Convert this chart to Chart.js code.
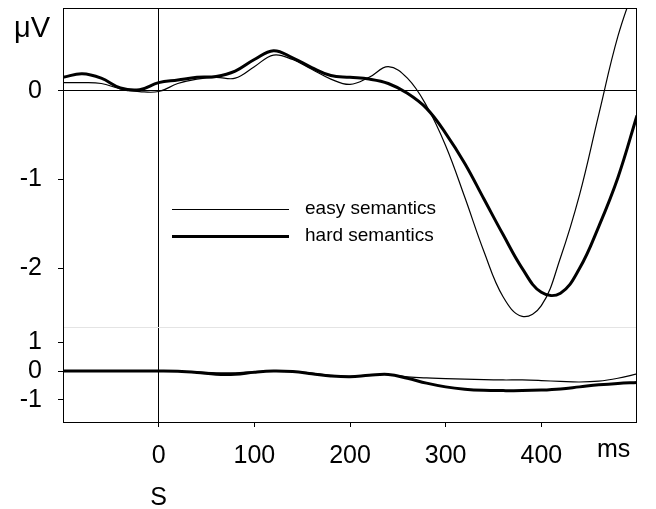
<!DOCTYPE html>
<html>
<head>
<meta charset="utf-8">
<script src="https://cdn.jsdelivr.net/npm/chart.js@4/dist/chart.umd.min.js"></script>
<style>
  html, body { margin: 0; padding: 0; background: #fff; }
  #wrap { width: 656px; height: 509px; }
</style>
</head>
<body>
<div id="wrap"><canvas id="erp"></canvas></div>
<script>
// time points, ms
const times = [-100, -80, -60, -40, -20, 0, 20, 40, 60, 80, 100, 120, 140, 160, 180, 200,
               220, 240, 260, 280, 300, 320, 340, 360, 380, 400, 420, 440, 460, 480, 500];

// upper panel, µV
const easyTop = [0.09, 0.09, 0.08, 0.02, -0.01, -0.01, 0.08, 0.13, 0.15, 0.14, 0.27, 0.40, 0.35, 0.24, 0.13, 0.07,
                 0.15, 0.27, 0.14, -0.17, -0.62, -1.20, -1.81, -2.32, -2.54, -2.42, -1.88, -1.17, -0.27, 0.61, 1.25];
const hardTop = [0.15, 0.19, 0.14, 0.03, 0.01, 0.09, 0.12, 0.15, 0.16, 0.22, 0.35, 0.45, 0.37, 0.26, 0.17, 0.15,
                 0.13, 0.08, -0.03, -0.20, -0.48, -0.82, -1.22, -1.62, -2.00, -2.27, -2.28, -2.00, -1.53, -0.98, -0.28];

// lower panel, µV
const easyBottom = [0, 0, 0, 0, 0, 0, -0.01, -0.03, -0.06, -0.06, -0.02, 0, -0.01, -0.07, -0.15, -0.18,
                    -0.14, -0.12, -0.20, -0.24, -0.26, -0.28, -0.30, -0.31, -0.31, -0.33, -0.36, -0.38, -0.35, -0.25, -0.10];
const hardBottom = [0, 0, 0, 0, 0, 0, -0.01, -0.05, -0.11, -0.11, -0.04, 0, -0.02, -0.09, -0.17, -0.20,
                    -0.15, -0.12, -0.25, -0.42, -0.55, -0.63, -0.67, -0.68, -0.68, -0.66, -0.62, -0.55, -0.48, -0.43, -0.40];

const xTicks = [0, 100, 200, 300, 400];
const yTopTicks = [0, -1, -2];
const yBottomTicks = [1, 0, -1];
const seriesNames = ['easy semantics', 'hard semantics'];

const FONT = "'Liberation Sans', Arial, sans-serif";
Chart.defaults.font.family = FONT;
Chart.defaults.color = '#000';

const pts = (vals) => times.map((t, i) => ({ x: t, y: vals[i] }));

function lineSet(label, vals, width, axis) {
    return {
        label: label,
        data: pts(vals),
        yAxisID: axis,
        borderColor: '#000',
        borderWidth: width,
        pointRadius: 0,
        fill: false,
        tension: 0.4
    };
}

// no extra room for half labels, the frame is fixed
function fitY(s) {
    s.width = 63;
    s.paddingTop = 0;
    s.paddingBottom = 0;
}

// frame, panel separator, axis words and the legend
const decor = {
    id: 'decor',
    afterDraw(chart) {
        const ctx = chart.ctx;
        const a = chart.chartArea;
        const yb = chart.scales.yBot;
        const x = chart.scales.x;
        ctx.save();
        ctx.strokeStyle = '#e4e4e4';
        ctx.lineWidth = 1;
        ctx.beginPath();
        ctx.moveTo(a.left, Math.round(yb.top) + 0.5);
        ctx.lineTo(a.right, Math.round(yb.top) + 0.5);
        ctx.stroke();

        ctx.strokeStyle = '#000';
        ctx.strokeRect(Math.round(a.left) + 0.5, Math.round(a.top) + 0.5,
                       Math.round(a.right - a.left) - 1, Math.round(a.bottom - a.top));

        ctx.fillStyle = '#000';
        ctx.textBaseline = 'alphabetic';
        ctx.textAlign = 'left';
        ctx.font = '29px ' + FONT;
        ctx.fillText('μV', 14, 37);
        ctx.font = '25px ' + FONT;
        ctx.fillText('ms', 597, 457);
        ctx.textAlign = 'center';
        ctx.fillText('S', x.getPixelForValue(0), 505);

        // legend
        const widths = [1, 3];
        ctx.textAlign = 'left';
        ctx.font = '19px ' + FONT;
        seriesNames.forEach((name, i) => {
            const ly = 209 + i * 27;
            ctx.lineWidth = widths[i];
            ctx.beginPath();
            ctx.moveTo(172, ly + 0.5);
            ctx.lineTo(289, ly + 0.5);
            ctx.stroke();
            ctx.textBaseline = 'middle';
            ctx.fillText(name, 305, ly);
        });
        ctx.restore();
    }
};

new Chart(document.getElementById('erp'), {
    type: 'line',
    data: {
        datasets: [
            lineSet(seriesNames[0], easyTop, 1.2, 'yTop'),
            lineSet(seriesNames[1], hardTop, 3, 'yTop'),
            lineSet(seriesNames[0], easyBottom, 1.2, 'yBot'),
            lineSet(seriesNames[1], hardBottom, 3, 'yBot')
        ]
    },
    options: {
        responsive: true,
        maintainAspectRatio: false,
        animation: false,
        layout: { padding: { top: 8, right: 19, left: 0, bottom: 0 } },
        plugins: {
            legend: { display: false },
            tooltip: { enabled: false }
        },
        scales: {
            x: {
                type: 'linear',
                min: -100,
                max: 500,
                afterBuildTicks: (s) => { s.ticks = xTicks.map(v => ({ value: v })); },
                afterFit: (s) => { s.height = 87; s.paddingLeft = 0; s.paddingRight = 0; },
                border: { display: false },
                grid: {
                    color: (c) => (c.tick && c.tick.value === 0) ? '#000' : 'rgba(0,0,0,0)',
                    tickColor: '#000',
                    tickLength: 5,
                    lineWidth: 1
                },
                ticks: { font: { size: 25 }, padding: 14, maxRotation: 0, autoSkip: false }
            },
            yBot: {
                type: 'linear',
                position: 'left',
                stack: 'panels',
                stackWeight: 95,
                min: -1.77,
                max: 1.53,
                afterBuildTicks: (s) => { s.ticks = yBottomTicks.map(v => ({ value: v })); },
                afterFit: fitY,
                border: { display: false },
                grid: {
                    drawOnChartArea: false,
                    tickColor: '#000',
                    tickLength: 5
                },
                ticks: { font: { size: 25, lineHeight: 1 }, padding: 16, autoSkip: false }
            },
            yTop: {
                type: 'linear',
                position: 'left',
                stack: 'panels',
                stackWeight: 319,
                min: -2.66,
                max: 0.93,
                afterBuildTicks: (s) => { s.ticks = yTopTicks.map(v => ({ value: v })); },
                afterFit: fitY,
                border: { display: false },
                grid: {
                    color: (c) => (c.tick && c.tick.value === 0) ? '#000' : 'rgba(0,0,0,0)',
                    tickColor: '#000',
                    tickLength: 5
                },
                ticks: { font: { size: 25 }, padding: 16, autoSkip: false }
            }
        }
    },
    plugins: [decor]
});
</script>
</body>
</html>
